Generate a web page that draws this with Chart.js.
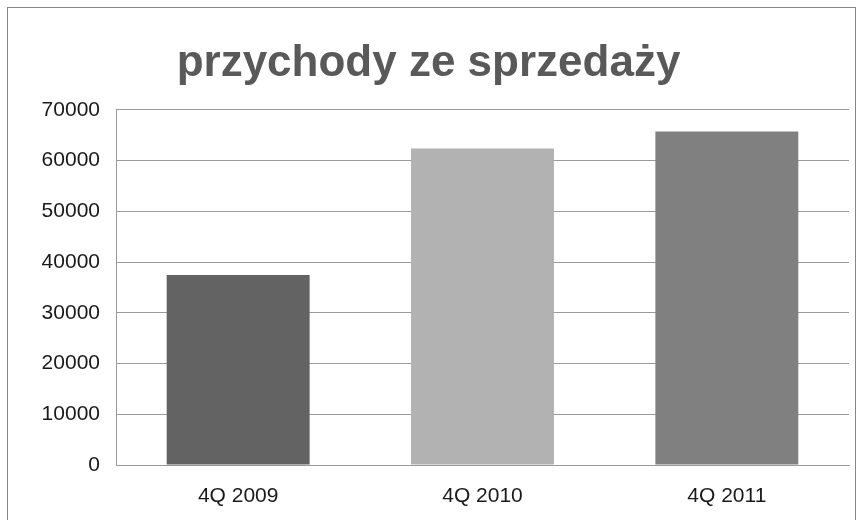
<!DOCTYPE html>
<html lang="pl">
  <head>
    <meta charset="UTF-8" />
    <title>przychody ze sprzedaży</title>
    <script src="https://cdn.jsdelivr.net/npm/chart.js@4"></script>
    <style>
      html, body { margin: 0; padding: 0; background: #fff; }
      #wrap { width: 861px; height: 520px; position: relative; }
    </style>
  </head>
  <body>
    <div id="wrap"><canvas id="myChart" width="861" height="520"></canvas></div>

    <script>
      const categories = ['4Q 2009', '4Q 2010', '4Q 2011'];
      const revenue = [37450, 62350, 65700];
      const barColors = ['#636363', '#b2b2b2', '#808080'];
      const yTicks = [0, 10000, 20000, 30000, 40000, 50000, 60000, 70000];

      // outer frame like the spreadsheet chart box
      const framePlugin = {
        id: 'frame',
        beforeDraw(chart) {
          const ctx = chart.ctx;
          ctx.save();
          ctx.fillStyle = '#fff';
          ctx.fillRect(0, 0, chart.width, chart.height);
          ctx.strokeStyle = '#868686';
          ctx.lineWidth = 1;
          ctx.strokeRect(7.5, 7.5, 848, 530);
          ctx.restore();
        }
      };

      const ctx = document.getElementById('myChart').getContext('2d');
      const myChart = new Chart(ctx, {
        type: 'bar',
        data: {
          labels: categories,
          datasets: [
            {
              label: 'przychody',
              data: revenue,
              backgroundColor: barColors,
              borderWidth: 0,
              categoryPercentage: 1,
              barPercentage: 0.585
            }
          ]
        },
        options: {
          responsive: false,
          animation: false,
          layout: { padding: { left: 8, right: 12, top: 8, bottom: 0 } },
          plugins: {
            legend: { display: false },
            tooltip: { enabled: false },
            title: {
              display: true,
              text: 'przychody ze sprzedaży',
              color: '#595959',
              font: { family: 'Liberation Sans', size: 44, weight: 'bold' },
              padding: { top: 29, bottom: 20 }
            }
          },
          scales: {
            x: {
              grid: { display: false, drawTicks: false },
              border: { display: true, color: '#9a9a9a', width: 1 },
              ticks: {
                color: '#1a1a1a',
                padding: 19,
                font: { family: 'Liberation Sans', size: 21 }
              },
              afterFit(scale) { scale.height = 55; }
            },
            y: {
              min: 0,
              max: 70000,
              grid: { color: '#9a9a9a', lineWidth: 1, drawTicks: false },
              border: { display: true, color: '#9a9a9a', width: 1 },
              afterBuildTicks(scale) { scale.ticks = yTicks.map(v => ({ value: v })); },
              ticks: {
                color: '#1a1a1a',
                padding: 16,
                font: { family: 'Liberation Sans', size: 21 },
                callback: v => String(v)
              },
              afterFit(scale) { scale.width = 108; }
            }
          }
        },
        plugins: [framePlugin]
      });
    </script>
  </body>
</html>
